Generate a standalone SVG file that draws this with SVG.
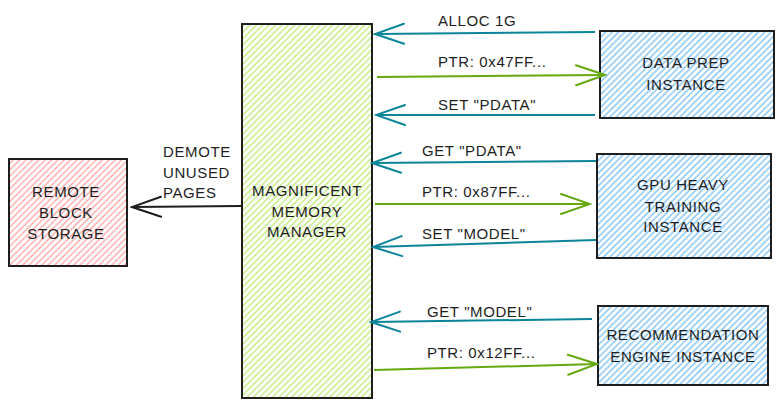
<svg xmlns="http://www.w3.org/2000/svg" width="783" height="408" viewBox="0 0 783 408">
<defs>
<style>
.box{stroke:#1e1e1e;stroke-width:2;}
.t{font-family:"Liberation Sans",Arial,sans-serif;font-size:15px;fill:#1e1e1e;letter-spacing:0.6px;}
.c{text-anchor:middle;}
.teal{stroke:#0c8599;stroke-width:2;fill:none;marker-end:url(#ah-teal);}
.green{stroke:#66a80f;stroke-width:2;fill:none;marker-end:url(#ah-green);}
.black{stroke:#1e1e1e;stroke-width:2;fill:none;marker-end:url(#ah-black);}
</style>
<pattern id="h-red" patternUnits="userSpaceOnUse" width="4.5" height="8" patternTransform="rotate(45)">
<line x1="1" y1="0" x2="1" y2="8" stroke="#ff8787" stroke-width="1"/>
</pattern>
<pattern id="h-green" patternUnits="userSpaceOnUse" width="4.5" height="8" patternTransform="rotate(45)">
<line x1="1" y1="0" x2="1" y2="8" stroke="#a9e34b" stroke-width="1"/>
</pattern>
<pattern id="h-blue" patternUnits="userSpaceOnUse" width="4.5" height="8" patternTransform="rotate(45)">
<line x1="1" y1="0" x2="1" y2="8" stroke="#4dabf7" stroke-width="1"/>
</pattern>
<marker id="ah-teal" viewBox="-32 -12 34 24" refX="0" refY="0" markerWidth="34" markerHeight="24" markerUnits="userSpaceOnUse" orient="auto">
<path d="M-29,-10 L0,0 L-29,10" fill="none" stroke="#0c8599" stroke-width="2" stroke-linecap="round"/>
</marker>
<marker id="ah-green" viewBox="-32 -12 34 24" refX="0" refY="0" markerWidth="34" markerHeight="24" markerUnits="userSpaceOnUse" orient="auto">
<path d="M-29,-10 L0,0 L-29,10" fill="none" stroke="#66a80f" stroke-width="2" stroke-linecap="round"/>
</marker>
<marker id="ah-black" viewBox="-32 -12 34 24" refX="0" refY="0" markerWidth="34" markerHeight="24" markerUnits="userSpaceOnUse" orient="auto">
<path d="M-29,-10 L0,0 L-29,10" fill="none" stroke="#1e1e1e" stroke-width="2" stroke-linecap="round"/>
</marker>
</defs>
<rect width="783" height="408" fill="#ffffff"/>

<g id="remote-block-storage">
<rect class="box" x="9" y="159" width="118" height="107" fill="url(#h-red)"/>
<text class="t c" x="66" y="197">REMOTE</text>
<text class="t c" x="66" y="218">BLOCK</text>
<text class="t c" x="66" y="239">STORAGE</text>
</g>

<g id="memory-manager">
<rect class="box" x="242" y="24" width="130" height="374" fill="url(#h-green)"/>
<text class="t c" x="307" y="196">MAGNIFICENT</text>
<text class="t c" x="307" y="217">MEMORY</text>
<text class="t c" x="307" y="237">MANAGER</text>
</g>

<g id="data-prep">
<rect class="box" x="600" y="31" width="174" height="87" fill="url(#h-blue)"/>
<text class="t c" x="686" y="68">DATA PREP</text>
<text class="t c" x="686" y="90">INSTANCE</text>
</g>

<g id="gpu-training">
<rect class="box" x="597" y="154" width="174" height="104" fill="url(#h-blue)"/>
<text class="t c" x="683" y="190">GPU HEAVY</text>
<text class="t c" x="683" y="212">TRAINING</text>
<text class="t c" x="683" y="232">INSTANCE</text>
</g>

<g id="recommendation-engine">
<rect class="box" x="598" y="306" width="170" height="79" fill="url(#h-blue)"/>
<text class="t c" x="683" y="340">RECOMMENDATION</text>
<text class="t c" x="683" y="362">ENGINE INSTANCE</text>
</g>

<g id="connectors">
<path class="teal" d="M595,32 L375,34"/>
<path class="green" d="M377,77 L605,75"/>
<path class="teal" d="M595,115 L376,115"/>
<path class="teal" d="M596,161 L372,163"/>
<path class="green" d="M375,204 L590,204"/>
<path class="teal" d="M596,240 L373,247"/>
<path class="teal" d="M592,319 L371,322"/>
<path class="green" d="M374,370 L597,364"/>
<path class="black" d="M241,206 L132,207"/>
<text class="t" x="438" y="26">ALLOC 1G</text>
<text class="t" x="438" y="67">PTR: 0x47FF...</text>
<text class="t" x="438" y="110">SET "PDATA"</text>
<text class="t" x="422" y="156">GET "PDATA"</text>
<text class="t" x="422" y="197">PTR: 0x87FF...</text>
<text class="t" x="422" y="239">SET "MODEL"</text>
<text class="t" x="427" y="317">GET "MODEL"</text>
<text class="t" x="427" y="358">PTR: 0x12FF...</text>
<text class="t" x="163" y="157">DEMOTE</text>
<text class="t" x="163" y="178">UNUSED</text>
<text class="t" x="163" y="198">PAGES</text>
</g>
</svg>
